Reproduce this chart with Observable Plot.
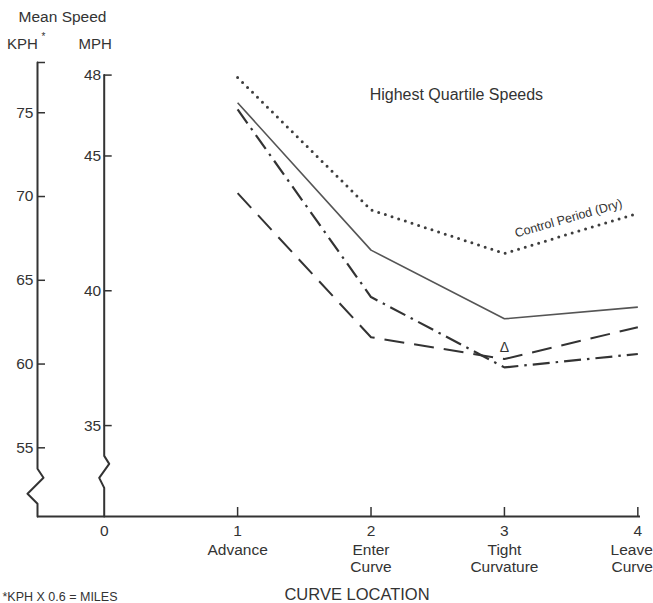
<!DOCTYPE html>
<html>
<head>
<meta charset="utf-8">
<script src="https://cdn.jsdelivr.net/npm/d3@7"></script>
<script src="https://cdn.jsdelivr.net/npm/@observablehq/plot@0.6"></script>
<style>
  html, body { margin: 0; padding: 0; background: #fff; }
  #chart svg { display: block; }
</style>
</head>
<body>
<div id="chart"></div>
<script>
// ---- data (speeds in KPH) ----
const locations = [1, 2, 3, 4];
const xTickValues = [0, 1, 2, 3, 4];
const locationNames = ["Advance", "Enter\nCurve", "Tight\nCurvature", "Leave\nCurve"];
const controlDryKph = [77.1, 69.2, 66.6, 69.0];
const solidKph = [75.6, 66.8, 62.7, 63.4];
const dashDotKph = [75.2, 64.0, 59.8, 60.6];
const longDashKph = [70.2, 61.6, 60.3, 62.2];
const kphTicks = [55, 60, 65, 70, 75];
const mphTicks = [35, 40, 45, 48];
const KPH_PER_MPH = 1.609344;

// ---- layout ----
const W = 653, H = 603;
const mL = 37, mR = 13, mT = 62, mB = 87;
const xDomain = [-0.5, 4.02];
const yDomain = [50.9, 78];
const kphAxisX = -0.5, mphAxisX = 0;
const pxX = (W - mL - mR) / (xDomain[1] - xDomain[0]);
const pxY = (H - mT - mB) / (yDomain[1] - yDomain[0]);
const ink = "#333";
const fs = 15.5;

// axis with zig-zag break (offsets in px relative to break start)
function axisPath(axisX, topVal, breakTopVal, shape) {
  const pts = [{x: axisX, y: topVal}];
  for (const [dx, dy] of shape) pts.push({x: axisX + dx / pxX, y: breakTopVal - dy / pxY});
  pts.push({x: axisX, y: yDomain[0]});
  return pts;
}
const kphAxisPts = axisPath(kphAxisX, yDomain[1], 53.75, [[0,0],[6,9],[-10,25],[0,35]]);
const mphAxisPts = axisPath(mphAxisX, 48 * KPH_PER_MPH, 54.52, [[0,0],[5,8],[-5,22],[0,32]]);

const seriesDefs = [
  {values: controlDryKph, dash: "0,7", width: 3, cap: "round", color: "#3d3d3d"},
  {values: solidKph, dash: null, width: 1.6, cap: "butt", color: "#555"},
  {values: dashDotKph, dash: "17,6,2.5,6", width: 2.2, cap: "butt", color: "#333"},
  {values: longDashKph, dash: "20,10", width: 2, cap: "butt", color: "#333"}
];

const lineMarks = seriesDefs.map(s => Plot.line(
  locations.map((loc, i) => ({loc, kph: s.values[i]})),
  {x: "loc", y: "kph", stroke: s.color, strokeWidth: s.width,
   strokeDasharray: s.dash || undefined, strokeLinecap: s.cap}
));

const ctrlMid = (controlDryKph[2] + controlDryKph[3]) / 2;
const innerLocs = locations.slice(0, 3);
const lastLoc = locations.slice(3);

const chart = Plot.plot({
  width: W, height: H,
  marginLeft: mL, marginRight: mR, marginTop: mT, marginBottom: mB,
  x: {domain: xDomain, axis: null},
  y: {domain: yDomain, axis: null},
  style: {fontFamily: "'Liberation Sans', Arial, sans-serif", fontSize: "15px", color: ink, background: "#fff"},
  marks: [
    // axes
    Plot.line(kphAxisPts, {x: "x", y: "y", stroke: ink, strokeWidth: 2}),
    Plot.line(mphAxisPts, {x: "x", y: "y", stroke: ink, strokeWidth: 2}),
    Plot.ruleY([yDomain[0]], {stroke: ink, strokeWidth: 2}),
    Plot.ruleY([...kphTicks, yDomain[1]], {y: d => d, x1: kphAxisX, x2: kphAxisX + 8 / pxX, stroke: ink, strokeWidth: 1.5}),
    Plot.text(kphTicks, {x: kphAxisX, y: d => d, text: d => String(d), textAnchor: "end", dx: -4, fill: ink, fontSize: fs}),
    Plot.ruleY(mphTicks, {y: d => d * KPH_PER_MPH, x1: mphAxisX, x2: mphAxisX + 8 / pxX, stroke: ink, strokeWidth: 1.5}),
    Plot.text(mphTicks, {x: mphAxisX, y: d => d * KPH_PER_MPH, text: d => String(d), textAnchor: "end", dx: -3, fill: ink, fontSize: fs}),
    Plot.ruleX(locations, {x: d => d, y1: yDomain[0], y2: yDomain[0] + 9 / pxY, stroke: ink, strokeWidth: 1.5}),
    Plot.text(xTickValues, {x: d => d, y: yDomain[0], text: d => String(d), dy: 15, fill: ink, fontSize: fs}),
    Plot.text(innerLocs, {x: d => d, y: yDomain[0], text: (d, i) => locationNames[i], lineAnchor: "top", dy: 26, lineHeight: 1.12, fill: ink, fontSize: fs}),
    Plot.text(lastLoc, {x: d => d, y: yDomain[0], text: () => locationNames[3], textAnchor: "end", lineAnchor: "top", dy: 26, dx: 15, lineHeight: 1.12, fill: ink, fontSize: fs}),
    // titles
    Plot.text(["Mean Speed"], {x: kphAxisX, y: yDomain[1], text: d => d, dx: 25, dy: -45, fill: ink, fontSize: 15.5}),
    Plot.text(["KPH"], {x: kphAxisX, y: yDomain[1], text: d => d, dx: -15, dy: -18, fill: ink, fontSize: 15}),
    Plot.text(["*"], {x: kphAxisX, y: yDomain[1], text: d => d, dx: 6, dy: -26, fill: ink, fontSize: 10}),
    Plot.text(["MPH"], {x: mphAxisX, y: yDomain[1], text: d => d, dx: -9, dy: -18, fill: ink, fontSize: 15}),
    Plot.text(["CURVE LOCATION"], {x: 2, y: yDomain[0], text: d => d, dx: -14, dy: 78, fill: ink, fontSize: 16.5}),
    Plot.text(["*KPH X 0.6 = MILES"], {x: kphAxisX, y: yDomain[0], text: d => d, textAnchor: "start", dx: -35, dy: 80, fill: ink, fontSize: 12.5}),
    // data lines
    ...lineMarks,
    // annotations
    Plot.text(["Highest Quartile Speeds"], {x: 2.64, y: 76.07, text: d => d, fill: ink, fontSize: 16}),
    Plot.text(["Control Period (Dry)"], {x: 3.48, y: ctrlMid, text: d => d, rotate: -16, dy: -15, fill: ink, fontSize: 12.5}),
    Plot.text(["Δ"], {x: 3, y: 60.97, text: d => d, fill: ink, fontSize: 14})
  ]
});
document.getElementById("chart").append(chart);
</script>
</body>
</html>
